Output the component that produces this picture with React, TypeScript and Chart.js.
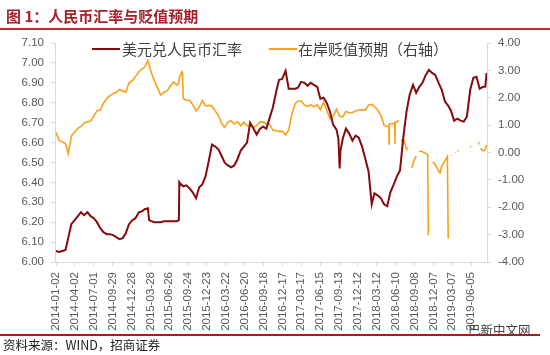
import React, { useEffect, useRef } from "react";
import { Chart, registerables } from "chart.js";

Chart.register(...registerables);

// 美元兑人民币汇率 (left axis)
const cnyDates = [
  "2014-01-02","2014-01-16","2014-02-01","2014-02-16","2014-03-01","2014-03-16","2014-04-01","2014-04-16","2014-05-01","2014-05-16","2014-06-01","2014-06-16",
  "2014-07-01","2014-07-16","2014-08-01","2014-08-16","2014-09-01","2014-09-16","2014-10-01","2014-10-16","2014-11-01","2014-11-16","2014-12-01","2014-12-16",
  "2015-01-01","2015-01-16","2015-02-01","2015-02-16","2015-03-01","2015-03-16","2015-03-22","2015-04-01","2015-04-16","2015-05-01","2015-05-16","2015-06-01","2015-06-16",
  "2015-07-01","2015-07-16","2015-08-01","2015-08-11","2015-08-13","2015-08-16","2015-09-01","2015-09-16","2015-10-01","2015-10-16","2015-11-01","2015-11-16","2015-12-01","2015-12-16",
  "2016-01-01","2016-01-16","2016-02-01","2016-02-16","2016-03-01","2016-03-16","2016-04-01","2016-04-16","2016-05-01","2016-05-16","2016-06-01","2016-06-16",
  "2016-07-01","2016-07-16","2016-08-01","2016-08-16","2016-09-01","2016-09-16","2016-10-01","2016-10-16","2016-11-01","2016-11-16","2016-12-01","2016-12-16",
  "2017-01-01","2017-01-16","2017-02-01","2017-02-16","2017-03-01","2017-03-16","2017-04-01","2017-04-16","2017-05-01","2017-05-16","2017-06-01","2017-06-16",
  "2017-07-01","2017-07-16","2017-08-01","2017-08-16","2017-09-01","2017-09-10","2017-09-16","2017-09-20","2017-10-01","2017-10-16","2017-11-01","2017-11-16","2017-12-01","2017-12-16",
  "2018-01-01","2018-01-16","2018-02-01","2018-02-16","2018-03-01","2018-03-16","2018-04-01","2018-04-16","2018-05-01","2018-05-16","2018-06-01","2018-06-16",
  "2018-07-01","2018-07-16","2018-08-01","2018-08-16","2018-09-01","2018-09-16","2018-10-01","2018-10-16","2018-11-01","2018-11-16","2018-12-01","2018-12-16",
  "2019-01-01","2019-01-16","2019-02-01","2019-02-16","2019-03-01","2019-03-16","2019-04-01","2019-04-16","2019-05-01","2019-05-16","2019-06-01","2019-06-16",
  "2019-07-01","2019-07-16","2019-08-01","2019-08-12","2019-08-18",
];
const cnyValues = [
  6.055,6.05,6.055,6.06,6.12,6.19,6.21,6.23,6.25,6.235,6.25,6.23,
  6.22,6.20,6.17,6.15,6.14,6.14,6.135,6.125,6.115,6.12,6.145,6.19,
  6.21,6.22,6.25,6.255,6.265,6.27,6.21,6.205,6.20,6.20,6.20,6.205,6.205,
  6.205,6.205,6.205,6.21,6.40,6.395,6.38,6.385,6.37,6.35,6.32,6.375,6.39,6.43,
  6.51,6.59,6.58,6.565,6.535,6.50,6.485,6.475,6.485,6.515,6.56,6.58,
  6.60,6.70,6.67,6.64,6.67,6.68,6.67,6.72,6.775,6.85,6.915,6.92,
  6.96,6.87,6.87,6.87,6.875,6.905,6.90,6.885,6.90,6.89,6.88,6.82,
  6.825,6.80,6.755,6.69,6.665,6.62,6.47,6.56,6.62,6.67,6.645,6.61,6.635,6.625,
  6.58,6.52,6.455,6.29,6.345,6.335,6.32,6.29,6.28,6.35,6.39,6.43,
  6.46,6.62,6.755,6.84,6.89,6.85,6.88,6.90,6.94,6.965,6.95,6.94,
  6.90,6.865,6.805,6.785,6.76,6.71,6.72,6.71,6.705,6.73,6.865,6.925,
  6.93,6.87,6.88,6.88,6.95,
];

// 在岸贬值预期 (right axis); null = no data
const expDates = [
  "2014-01-02","2014-01-16","2014-02-01","2014-02-16","2014-03-01","2014-03-16","2014-04-01","2014-04-16","2014-05-01","2014-05-16","2014-06-01","2014-06-16",
  "2014-07-01","2014-07-16","2014-08-01","2014-08-16","2014-09-01","2014-09-16","2014-10-01","2014-10-16","2014-11-01","2014-11-16","2014-12-01","2014-12-16",
  "2015-01-01","2015-01-16","2015-02-01","2015-02-16","2015-03-01","2015-03-16","2015-04-01","2015-04-16","2015-05-01","2015-05-16","2015-06-01","2015-06-16",
  "2015-07-01","2015-07-16","2015-08-01","2015-08-10","2015-08-14","2015-08-25","2015-08-28","2015-09-01","2015-09-16","2015-10-01","2015-10-16","2015-11-01","2015-11-16","2015-12-01","2015-12-16",
  "2016-01-01","2016-01-16","2016-02-01","2016-02-16","2016-03-01","2016-03-16","2016-04-01","2016-04-16","2016-05-01","2016-05-16","2016-06-01","2016-06-16",
  "2016-07-01","2016-07-16","2016-08-01","2016-08-16","2016-09-01","2016-09-16","2016-10-01","2016-10-16","2016-11-01","2016-11-16","2016-12-01","2016-12-16",
  "2017-01-01","2017-01-16","2017-02-01","2017-02-16","2017-03-01","2017-03-16","2017-04-01","2017-04-16","2017-05-01","2017-05-16","2017-06-01","2017-06-16",
  "2017-07-01","2017-07-16","2017-08-01","2017-08-16","2017-09-01","2017-09-16","2017-10-01","2017-10-16","2017-11-01","2017-11-16","2017-12-01","2017-12-16",
  "2018-01-01","2018-01-16","2018-02-01","2018-02-16","2018-03-01","2018-03-16","2018-04-01","2018-04-16","2018-05-01","2018-05-09","2018-05-10","2018-05-11",
  "2018-05-16","2018-06-01","2018-06-06","2018-06-07","2018-06-08","2018-06-16","2018-06-25","2018-07-02","2018-07-09","2018-07-16","2018-07-22","2018-08-01",
  "2018-08-06","2018-08-15","2018-08-26","2018-09-01","2018-09-09","2018-09-16","2018-09-22","2018-10-01","2018-10-16","2018-11-01","2018-11-10","2018-11-13",
  "2018-11-20","2018-12-04","2018-12-16","2019-01-01","2019-01-08","2019-01-16","2019-02-01","2019-02-12","2019-02-16","2019-02-22","2019-03-01","2019-03-03",
  "2019-03-10","2019-03-20","2019-03-22","2019-03-26","2019-04-01","2019-04-03","2019-04-15","2019-05-30","2019-06-05","2019-06-20","2019-07-10","2019-07-12",
  "2019-07-16","2019-07-20","2019-07-28","2019-08-05","2019-08-12","2019-08-18",
];
const expValues = [
  0.74,0.45,0.38,0.33,-0.05,0.60,0.75,0.88,0.95,1.08,1.12,1.15,
  1.33,1.52,1.56,1.80,1.97,2.08,2.15,2.20,2.30,2.25,2.20,2.55,
  2.62,2.78,2.95,3.05,3.12,3.36,2.92,2.62,2.36,2.10,2.20,2.25,
  2.42,2.58,2.46,2.55,2.75,2.95,2.90,1.97,1.91,1.91,1.75,1.52,1.66,1.90,1.70,
  1.72,1.70,1.51,1.35,1.07,0.92,1.11,1.17,1.04,1.13,0.98,1.11,
  0.98,0.98,0.92,0.98,1.11,1.12,1.04,1.04,0.82,0.80,0.77,0.78,
  0.64,0.82,1.44,1.78,1.88,1.88,1.74,1.68,1.75,1.67,1.74,1.56,
  1.83,1.55,1.23,1.33,1.58,1.32,1.30,1.50,1.45,1.46,1.52,1.55,
  1.56,1.55,1.73,1.76,1.68,1.55,1.35,1.00,0.95,0.95,0.31,1.04,
  1.04,1.06,1.08,0.31,1.10,1.12,1.17,null,0.49,0.31,0.40,0.12,
  0.18,null,-0.56,-0.40,-0.25,-0.13,null,0.05,0.03,-0.03,-0.08,-3.02,
  null,-0.34,-0.44,-0.68,-0.74,-0.50,-0.30,-0.15,-3.14,null,-0.08,-0.10,
  null,0.00,0.02,null,0.06,0.08,null,0.22,0.20,null,0.37,0.35,
  null,0.15,0.08,0.06,0.12,0.28,
];

const xTickLabels = [
  "2014-01-02","2014-04-02","2014-07-01","2014-09-29","2014-12-28","2015-03-28","2015-06-26","2015-09-24",
  "2015-12-23","2016-03-22","2016-06-20","2016-09-18","2016-12-17","2017-03-17","2017-06-15","2017-09-13",
  "2017-12-12","2018-03-12","2018-06-10","2018-09-08","2018-12-07","2019-03-07","2019-06-05",
];

const RED = "#870A0C";
const ORANGE = "#F9A11B";
const CJK = '"Noto Sans CJK SC", "Noto Sans", sans-serif';

const BASE = Date.UTC(2014, 0, 2);
const toDay = (s: string) => {
  const [y, m, d] = s.split("-").map(Number);
  return (Date.UTC(y, m - 1, d) - BASE) / 86400000;
};

export default function App() {
  const ref = useRef<HTMLCanvasElement>(null);

  useEffect(() => {
    if (!ref.current) return;
    const tickDays = xTickLabels.map(toDay);
    const tickFont = { family: '"Liberation Sans", Arial, sans-serif', size: 11.5 };
    const axisGrid = { drawOnChartArea: false, drawTicks: true, tickLength: 4, color: "#d9d9d9" };
    const chart = new Chart(ref.current, {
      type: "line",
      data: {
        datasets: [
          {
            label: "美元兑人民币汇率",
            data: cnyDates.map((d, i) => ({ x: toDay(d), y: cnyValues[i] })),
            borderColor: RED,
            backgroundColor: RED,
            borderWidth: 2,
            pointRadius: 0,
            tension: 0,
            yAxisID: "y",
          },
          {
            label: "在岸贬值预期（右轴）",
            data: expDates.map((d, i) => ({ x: toDay(d), y: expValues[i] })),
            borderColor: ORANGE,
            backgroundColor: ORANGE,
            borderWidth: 1.6,
            pointRadius: 0,
            tension: 0,
            spanGaps: false,
            yAxisID: "y1",
          },
        ],
      },
      options: {
        animation: false,
        responsive: false,
        layout: { padding: { top: 43, left: 0, right: 0, bottom: 0 } },
        plugins: { legend: { display: false }, tooltip: { enabled: false } },
        scales: {
          x: {
            type: "linear",
            min: -5,
            max: 2056,
            afterBuildTicks: (s: any) => {
              s.ticks = tickDays.map((v) => ({ value: v }));
            },
            afterFit: (s: any) => {
              s.height = 93;
            },
            ticks: {
              autoSkip: false,
              minRotation: 90,
              maxRotation: 90,
              padding: 6,
              color: "#595959",
              font: tickFont,
              callback: (_v: any, i: number) => xTickLabels[i],
            },
            grid: axisGrid,
            border: { color: "#d9d9d9" },
          },
          y: {
            position: "left",
            min: 6.0,
            max: 7.1,
            afterFit: (s: any) => {
              s.width = 55;
            },
            ticks: {
              stepSize: 0.1,
              padding: 7,
              color: "#595959",
              font: tickFont,
              callback: (v: any) => Number(v).toFixed(2),
            },
            grid: axisGrid,
            border: { color: "#d9d9d9" },
          },
          y1: {
            position: "right",
            min: -4,
            max: 4,
            afterFit: (s: any) => {
              s.width = 63;
            },
            ticks: {
              stepSize: 1,
              padding: 7,
              color: "#595959",
              font: tickFont,
              callback: (v: any) => Number(v).toFixed(2),
            },
            grid: axisGrid,
            border: { color: "#d9d9d9" },
          },
        },
      },
    } as any);
    return () => chart.destroy();
  }, []);

  const legendText: React.CSSProperties = {
    position: "absolute",
    top: 39,
    height: 20,
    lineHeight: "20px",
    fontSize: 15,
    fontFamily: CJK,
    color: "#404040",
    whiteSpace: "nowrap",
  };

  return (
    <div style={{ position: "absolute", left: 0, top: 0, width: 550, height: 355, background: "#fff", overflow: "hidden" }}>
      <canvas ref={ref} width={550} height={355} style={{ position: "absolute", left: 0, top: 0, width: 550, height: 355, display: "block" }} />
      <div style={{ position: "absolute", left: 6, top: 6, height: 20, lineHeight: "20px", fontSize: 15, fontWeight: 700, fontFamily: CJK, color: "#A3222A", whiteSpace: "nowrap" }}>
        图 1：人民币汇率与贬值预期
      </div>
      <div style={{ position: "absolute", left: 0, top: 27.5, width: 550, height: 2, background: "#C8262B" }} />
      <div style={{ position: "absolute", left: 92, top: 48, width: 28, height: 2, background: RED }} />
      <div style={{ ...legendText, left: 122 }}>美元兑人民币汇率</div>
      <div style={{ position: "absolute", left: 269, top: 48, width: 28, height: 2, background: ORANGE }} />
      <div style={{ ...legendText, left: 298 }}>在岸贬值预期（右轴）</div>
      <div style={{ position: "absolute", left: 0, top: 334, width: 540, height: 2, background: "#B0191E" }} />
      <div style={{ position: "absolute", left: 3, top: 335, height: 20, lineHeight: "20px", fontSize: 12.5, fontFamily: CJK, color: "#222", whiteSpace: "nowrap" }}>
        资料来源：WIND，招商证券
      </div>
      <div style={{ position: "absolute", left: 468, top: 321, height: 18, lineHeight: "18px", fontSize: 12.5, fontFamily: CJK, color: "#444", whiteSpace: "nowrap" }}>
        巴新中文网
      </div>
    </div>
  );
}
